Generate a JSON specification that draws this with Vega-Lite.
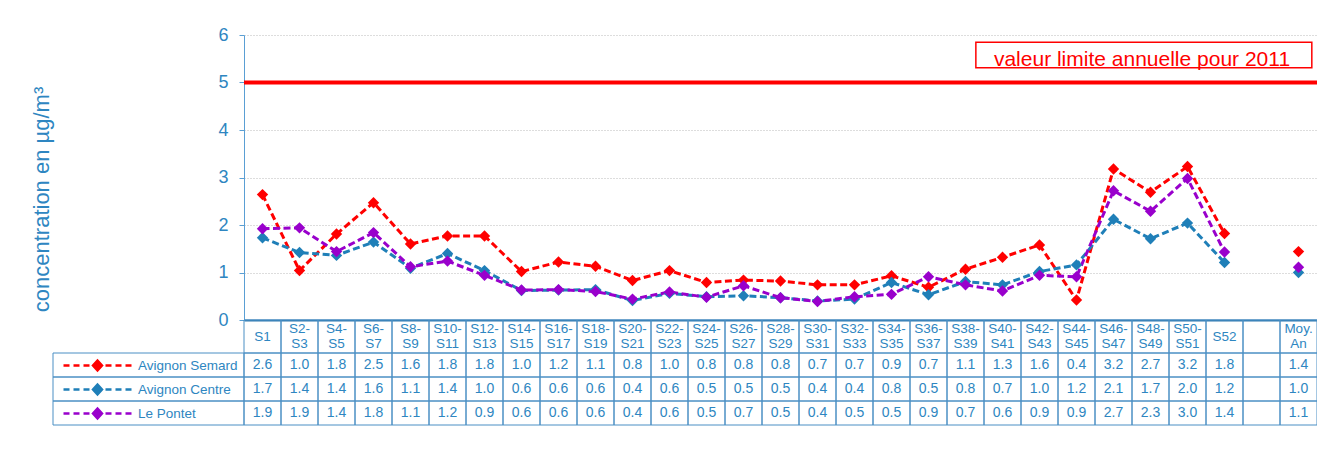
{
  "$schema": "https://vega.github.io/schema/vega-lite/v6.json",
  "padding": {"left": 30, "top": 26, "right": 0, "bottom": 0},
  "background": "white",
  "config": {"view": {"stroke": null}, "font": "Liberation Sans"},
  "datasets": {
    "d": [
      {"week": "S1", "series": "Avignon Semard", "value": 2.64},
      {"week": "S2-\nS3", "series": "Avignon Semard", "value": 1.04},
      {"week": "S4-\nS5", "series": "Avignon Semard", "value": 1.81},
      {"week": "S6-\nS7", "series": "Avignon Semard", "value": 2.47},
      {"week": "S8-\nS9", "series": "Avignon Semard", "value": 1.60},
      {"week": "S10-\nS11", "series": "Avignon Semard", "value": 1.77},
      {"week": "S12-\nS13", "series": "Avignon Semard", "value": 1.77},
      {"week": "S14-\nS15", "series": "Avignon Semard", "value": 1.02},
      {"week": "S16-\nS17", "series": "Avignon Semard", "value": 1.22},
      {"week": "S18-\nS19", "series": "Avignon Semard", "value": 1.13},
      {"week": "S20-\nS21", "series": "Avignon Semard", "value": 0.83},
      {"week": "S22-\nS23", "series": "Avignon Semard", "value": 1.04},
      {"week": "S24-\nS25", "series": "Avignon Semard", "value": 0.79},
      {"week": "S26-\nS27", "series": "Avignon Semard", "value": 0.84},
      {"week": "S28-\nS29", "series": "Avignon Semard", "value": 0.82},
      {"week": "S30-\nS31", "series": "Avignon Semard", "value": 0.74},
      {"week": "S32-\nS33", "series": "Avignon Semard", "value": 0.74},
      {"week": "S34-\nS35", "series": "Avignon Semard", "value": 0.93},
      {"week": "S36-\nS37", "series": "Avignon Semard", "value": 0.69},
      {"week": "S38-\nS39", "series": "Avignon Semard", "value": 1.07},
      {"week": "S40-\nS41", "series": "Avignon Semard", "value": 1.32},
      {"week": "S42-\nS43", "series": "Avignon Semard", "value": 1.58},
      {"week": "S44-\nS45", "series": "Avignon Semard", "value": 0.42},
      {"week": "S46-\nS47", "series": "Avignon Semard", "value": 3.18},
      {"week": "S48-\nS49", "series": "Avignon Semard", "value": 2.69},
      {"week": "S50-\nS51", "series": "Avignon Semard", "value": 3.23},
      {"week": "S52", "series": "Avignon Semard", "value": 1.82},
      {"week": " ", "series": "Avignon Semard", "value": null},
      {"week": "Moy.\nAn", "series": "Avignon Semard", "value": 1.44},
      {"week": "S1", "series": "Avignon Centre", "value": 1.73},
      {"week": "S2-\nS3", "series": "Avignon Centre", "value": 1.42},
      {"week": "S4-\nS5", "series": "Avignon Centre", "value": 1.36},
      {"week": "S6-\nS7", "series": "Avignon Centre", "value": 1.64},
      {"week": "S8-\nS9", "series": "Avignon Centre", "value": 1.09},
      {"week": "S10-\nS11", "series": "Avignon Centre", "value": 1.40},
      {"week": "S12-\nS13", "series": "Avignon Centre", "value": 1.04},
      {"week": "S14-\nS15", "series": "Avignon Centre", "value": 0.62},
      {"week": "S16-\nS17", "series": "Avignon Centre", "value": 0.63},
      {"week": "S18-\nS19", "series": "Avignon Centre", "value": 0.64},
      {"week": "S20-\nS21", "series": "Avignon Centre", "value": 0.41},
      {"week": "S22-\nS23", "series": "Avignon Centre", "value": 0.56},
      {"week": "S24-\nS25", "series": "Avignon Centre", "value": 0.49},
      {"week": "S26-\nS27", "series": "Avignon Centre", "value": 0.51},
      {"week": "S28-\nS29", "series": "Avignon Centre", "value": 0.47},
      {"week": "S30-\nS31", "series": "Avignon Centre", "value": 0.40},
      {"week": "S32-\nS33", "series": "Avignon Centre", "value": 0.44},
      {"week": "S34-\nS35", "series": "Avignon Centre", "value": 0.79},
      {"week": "S36-\nS37", "series": "Avignon Centre", "value": 0.53},
      {"week": "S38-\nS39", "series": "Avignon Centre", "value": 0.81},
      {"week": "S40-\nS41", "series": "Avignon Centre", "value": 0.74},
      {"week": "S42-\nS43", "series": "Avignon Centre", "value": 1.02},
      {"week": "S44-\nS45", "series": "Avignon Centre", "value": 1.16},
      {"week": "S46-\nS47", "series": "Avignon Centre", "value": 2.12},
      {"week": "S48-\nS49", "series": "Avignon Centre", "value": 1.71},
      {"week": "S50-\nS51", "series": "Avignon Centre", "value": 2.04},
      {"week": "S52", "series": "Avignon Centre", "value": 1.21},
      {"week": " ", "series": "Avignon Centre", "value": null},
      {"week": "Moy.\nAn", "series": "Avignon Centre", "value": 1.00},
      {"week": "S1", "series": "Le Pontet", "value": 1.92},
      {"week": "S2-\nS3", "series": "Le Pontet", "value": 1.94},
      {"week": "S4-\nS5", "series": "Le Pontet", "value": 1.44},
      {"week": "S6-\nS7", "series": "Le Pontet", "value": 1.84},
      {"week": "S8-\nS9", "series": "Le Pontet", "value": 1.12},
      {"week": "S10-\nS11", "series": "Le Pontet", "value": 1.24},
      {"week": "S12-\nS13", "series": "Le Pontet", "value": 0.94},
      {"week": "S14-\nS15", "series": "Le Pontet", "value": 0.63},
      {"week": "S16-\nS17", "series": "Le Pontet", "value": 0.64},
      {"week": "S18-\nS19", "series": "Le Pontet", "value": 0.60},
      {"week": "S20-\nS21", "series": "Le Pontet", "value": 0.44},
      {"week": "S22-\nS23", "series": "Le Pontet", "value": 0.59},
      {"week": "S24-\nS25", "series": "Le Pontet", "value": 0.48},
      {"week": "S26-\nS27", "series": "Le Pontet", "value": 0.72},
      {"week": "S28-\nS29", "series": "Le Pontet", "value": 0.47},
      {"week": "S30-\nS31", "series": "Le Pontet", "value": 0.39},
      {"week": "S32-\nS33", "series": "Le Pontet", "value": 0.49},
      {"week": "S34-\nS35", "series": "Le Pontet", "value": 0.54},
      {"week": "S36-\nS37", "series": "Le Pontet", "value": 0.91},
      {"week": "S38-\nS39", "series": "Le Pontet", "value": 0.74},
      {"week": "S40-\nS41", "series": "Le Pontet", "value": 0.61},
      {"week": "S42-\nS43", "series": "Le Pontet", "value": 0.94},
      {"week": "S44-\nS45", "series": "Le Pontet", "value": 0.91},
      {"week": "S46-\nS47", "series": "Le Pontet", "value": 2.72},
      {"week": "S48-\nS49", "series": "Le Pontet", "value": 2.29},
      {"week": "S50-\nS51", "series": "Le Pontet", "value": 2.98},
      {"week": "S52", "series": "Le Pontet", "value": 1.43},
      {"week": " ", "series": "Le Pontet", "value": null},
      {"week": "Moy.\nAn", "series": "Le Pontet", "value": 1.11}
    ]
  },
  "columns": 2,
  "spacing": 0,
  "bounds": "flush",
  "concat": [
    {"width": 191, "height": 285, "data": {"values": []}, "mark": "point"},
    {
      "width": 1073,
      "height": 285,
      "layer": [
        {
          "data": {"name": "d"},
          "encoding": {
            "x": {
              "field": "week", "type": "nominal",
              "scale": {"type": "point", "padding": 0.5, "domain": ["S1","S2-\nS3","S4-\nS5","S6-\nS7","S8-\nS9","S10-\nS11","S12-\nS13","S14-\nS15","S16-\nS17","S18-\nS19","S20-\nS21","S22-\nS23","S24-\nS25","S26-\nS27","S28-\nS29","S30-\nS31","S32-\nS33","S34-\nS35","S36-\nS37","S38-\nS39","S40-\nS41","S42-\nS43","S44-\nS45","S46-\nS47","S48-\nS49","S50-\nS51","S52"," ","Moy.\nAn"]},
              "axis": {"labels": false, "ticks": false, "title": null, "grid": false, "domainColor": "#2f78b0", "domainWidth": 2}
            },
            "y": {
              "field": "value", "type": "quantitative",
              "scale": {"domain": [0, 6]},
              "axis": {
                "values": [0, 1, 2, 3, 4, 5, 6],
                "title": "concentration en µg/m³",
                "titleFontSize": 22, "titleColor": "#2e86c1", "titleFontWeight": "normal", "titlePadding": 164, "titleY": 164,
                "labelFontSize": 18, "labelColor": "#2e86c1", "labelPadding": 11,
                "tickSize": 5, "tickColor": "#5a9fd4", "domainColor": "#5a9fd4",
                "grid": true, "gridColor": "#bbbbbb", "gridDash": [1, 2]
              }
            },
            "color": {
              "field": "series", "type": "nominal",
              "scale": {"domain": ["Avignon Semard", "Avignon Centre", "Le Pontet"], "range": ["#ff0000", "#1f7fb8", "#9900cc"]},
              "legend": {
                "orient": "none", "legendX": 9, "legendY": 319, "title": null, "direction": "vertical",
                "symbolType": "M-1,0H-0.4M0,0H0.6M1,0H1.6M3.2,0H3.8M4.2,0H4.8M5.2,0H5.8M2.4,-0.5L2.85,0L2.4,0.5L1.95,0Z",
                "symbolSize": 400, "symbolStrokeWidth": 2.5, "symbolDash": [],
                "labelOffset": 53, "labelFontSize": 13.5, "labelColor": "#2e86c1",
                "rowPadding": 2, "padding": 0,
                "encode": {"symbols": {"update": {"fill": {"scale": "color", "field": "value"}, "stroke": {"scale": "color", "field": "value"}, "opacity": {"value": 1}}}}
              }
            }
          },
          "layer": [
            {
              "transform": [{"filter": "isValid(datum.value) && indexof(datum.week, 'Moy') < 0"}],
              "mark": {"type": "line", "strokeDash": [7, 3.5], "strokeWidth": 3}
            },
            {
              "transform": [{"filter": "isValid(datum.value)"}],
              "mark": {"type": "point", "shape": "diamond", "filled": true, "size": 130, "opacity": 1}
            }
          ]
        },
        {
          "data": {"values": [{}]},
          "mark": {"type": "rule", "color": "#ff0000", "strokeWidth": 4},
          "encoding": {"y": {"datum": 5, "type": "quantitative"}}
        },
        {
          "data": {"values": [{}]},
          "mark": {"type": "rect", "filled": false, "color": "#ff0000", "strokeWidth": 1.5},
          "encoding": {
            "x": {"datum": 19.78, "type": "quantitative", "scale": {"domain": [0, 29], "nice": false}, "axis": null},
            "x2": {"datum": 28.86},
            "y": {"datum": 5.85, "type": "quantitative"},
            "y2": {"datum": 5.31}
          }
        },
        {
          "data": {"values": [{}]},
          "mark": {"type": "text", "text": "valeur limite annuelle pour 2011", "color": "#ff0000", "fontSize": 21, "baseline": "alphabetic", "align": "center"},
          "encoding": {
            "x": {"datum": 24.27, "type": "quantitative", "scale": {"domain": [0, 29], "nice": false}, "axis": null},
            "y": {"datum": 5.35, "type": "quantitative"}
          }
        }
      ],
      "resolve": {"scale": {"x": "independent"}}
    },
    {"width": 191, "height": 33, "data": {"values": []}, "mark": "point"},
    {
      "width": 1073,
      "height": 33,
      "data": {"name": "d"},
      "transform": [{"filter": "datum.series === 'Avignon Semard'"}],
      "encoding": {
        "x": {
          "field": "week", "type": "nominal",
          "scale": {"type": "band", "paddingInner": 0, "paddingOuter": 0, "domain": ["S1","S2-\nS3","S4-\nS5","S6-\nS7","S8-\nS9","S10-\nS11","S12-\nS13","S14-\nS15","S16-\nS17","S18-\nS19","S20-\nS21","S22-\nS23","S24-\nS25","S26-\nS27","S28-\nS29","S30-\nS31","S32-\nS33","S34-\nS35","S36-\nS37","S38-\nS39","S40-\nS41","S42-\nS43","S44-\nS45","S46-\nS47","S48-\nS49","S50-\nS51","S52"," ","Moy.\nAn"]},
          "axis": null
        }
      },
      "layer": [
        {"mark": {"type": "rect", "filled": false, "color": "#4a8fc4", "strokeWidth": 1}},
        {
          "transform": [{"filter": "indexof(datum.week, '\\n') >= 0"}],
          "mark": {"type": "text", "lineBreak": "\n", "fontSize": 13.5, "lineHeight": 15, "dy": -7.5, "color": "#2e86c1"},
          "encoding": {"text": {"field": "week"}}
        },
        {
          "transform": [{"filter": "indexof(datum.week, '\\n') < 0"}],
          "mark": {"type": "text", "fontSize": 13.5, "color": "#2e86c1"},
          "encoding": {"text": {"field": "week"}}
        }
      ]
    },
    {
      "width": 191,
      "height": 72,
      "data": {"name": "d"},
      "transform": [{"filter": "datum.week === 'S1'"}],
      "mark": {"type": "rect", "filled": false, "color": "#4a8fc4", "strokeWidth": 1},
      "encoding": {
        "y": {"field": "series", "type": "nominal", "scale": {"type": "band", "paddingInner": 0, "paddingOuter": 0, "domain": ["Avignon Semard", "Avignon Centre", "Le Pontet"]}, "axis": null}
      }
    },
    {
      "width": 1073,
      "height": 72,
      "data": {"name": "d"},
      "encoding": {
        "x": {
          "field": "week", "type": "nominal",
          "scale": {"type": "band", "paddingInner": 0, "paddingOuter": 0, "domain": ["S1","S2-\nS3","S4-\nS5","S6-\nS7","S8-\nS9","S10-\nS11","S12-\nS13","S14-\nS15","S16-\nS17","S18-\nS19","S20-\nS21","S22-\nS23","S24-\nS25","S26-\nS27","S28-\nS29","S30-\nS31","S32-\nS33","S34-\nS35","S36-\nS37","S38-\nS39","S40-\nS41","S42-\nS43","S44-\nS45","S46-\nS47","S48-\nS49","S50-\nS51","S52"," ","Moy.\nAn"]},
          "axis": null
        },
        "y": {"field": "series", "type": "nominal", "scale": {"type": "band", "paddingInner": 0, "paddingOuter": 0, "domain": ["Avignon Semard", "Avignon Centre", "Le Pontet"]}, "axis": null}
      },
      "layer": [
        {"mark": {"type": "rect", "filled": false, "color": "#4a8fc4", "strokeWidth": 1}},
        {
          "transform": [{"filter": "isValid(datum.value)"}],
          "mark": {"type": "text", "fontSize": 14, "color": "#2e86c1"},
          "encoding": {"text": {"field": "value", "type": "quantitative", "format": ".1f"}}
        }
      ]
    }
  ]
}
